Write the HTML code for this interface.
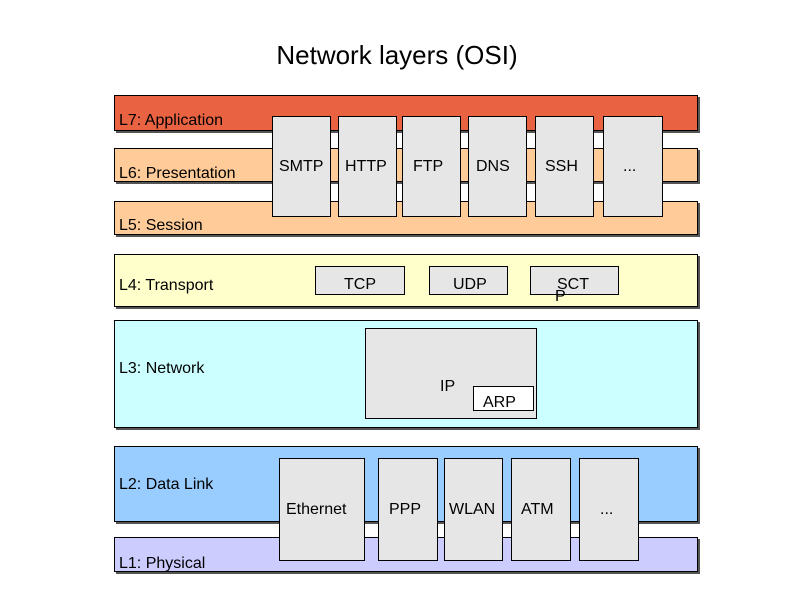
<!DOCTYPE html>
<html><head><style>
body{margin:0;width:794px;height:595px;background:#fff;position:relative;overflow:hidden;font-family:"Liberation Sans",Arial,sans-serif;}
div{position:absolute;box-sizing:border-box;}
.b{border:1px solid #000;box-shadow:2px 2px 0 #555;left:114px;width:584px;}
.x{border:1px solid #000;background:#e6e6e6;}
.t{font-size:16px;line-height:18px;white-space:nowrap;color:#000;}
</style></head><body>
<div class="t" style="left:0;width:794px;top:40px;font-size:26px;line-height:30px;text-align:center;">Network layers (OSI)</div>

<div class="b" style="top:95px;height:36px;background:#e96343;"></div>
<div class="b" style="top:148px;height:34px;background:#ffcc99;"></div>
<div class="b" style="top:201px;height:34px;background:#ffcc99;"></div>
<div class="b" style="top:254px;height:53px;background:#ffffcc;"></div>
<div class="b" style="top:320px;height:108px;background:#ccffff;"></div>
<div class="b" style="top:446px;height:76px;background:#99ccff;"></div>
<div class="b" style="top:537px;height:35px;background:#ccccff;"></div>

<div class="t" style="left:119px;top:112px;">L7: Application</div>
<div class="t" style="left:119px;top:165px;">L6: Presentation</div>
<div class="t" style="left:119px;top:217px;">L5: Session</div>
<div class="t" style="left:119px;top:277px;">L4: Transport</div>
<div class="t" style="left:119px;top:360px;">L3: Network</div>
<div class="t" style="left:119px;top:476px;">L2: Data Link</div>
<div class="t" style="left:119px;top:555px;">L1: Physical</div>

<div class="x" style="left:272px;top:116px;width:59px;height:101px;"></div>
<div class="x" style="left:338px;top:116px;width:59px;height:101px;"></div>
<div class="x" style="left:402px;top:116px;width:59px;height:101px;"></div>
<div class="x" style="left:468px;top:116px;width:59px;height:101px;"></div>
<div class="x" style="left:535px;top:116px;width:59px;height:101px;"></div>
<div class="x" style="left:603px;top:116px;width:60px;height:101px;"></div>
<div class="t" style="left:279px;top:158px;">SMTP</div>
<div class="t" style="left:345px;top:158px;">HTTP</div>
<div class="t" style="left:413px;top:158px;">FTP</div>
<div class="t" style="left:476px;top:158px;">DNS</div>
<div class="t" style="left:545px;top:158px;">SSH</div>
<div class="t" style="left:623px;top:158px;">...</div>

<div class="x" style="left:315px;top:266px;width:90px;height:29px;"></div>
<div class="x" style="left:429px;top:266px;width:79px;height:29px;"></div>
<div class="x" style="left:530px;top:266px;width:89px;height:29px;"></div>
<div class="t" style="left:344px;top:276px;">TCP</div>
<div class="t" style="left:453px;top:276px;">UDP</div>
<div class="t" style="left:557px;top:276px;">SCT</div>
<div class="t" style="left:555px;top:288px;">P</div>

<div class="x" style="left:365px;top:328px;width:172px;height:91px;"></div>
<div class="t" style="left:440px;top:378px;">IP</div>
<div style="left:473px;top:386px;width:61px;height:25px;border:1px solid #000;background:#fff;"></div>
<div class="t" style="left:483px;top:394px;">ARP</div>

<div class="x" style="left:279px;top:458px;width:86px;height:103px;"></div>
<div class="x" style="left:378px;top:458px;width:60px;height:103px;"></div>
<div class="x" style="left:444px;top:458px;width:59px;height:103px;"></div>
<div class="x" style="left:511px;top:458px;width:60px;height:103px;"></div>
<div class="x" style="left:579px;top:458px;width:60px;height:103px;"></div>
<div class="t" style="left:286px;top:501px;">Ethernet</div>
<div class="t" style="left:389px;top:501px;">PPP</div>
<div class="t" style="left:449px;top:501px;">WLAN</div>
<div class="t" style="left:521px;top:501px;">ATM</div>
<div class="t" style="left:600px;top:501px;">...</div>
</body></html>
